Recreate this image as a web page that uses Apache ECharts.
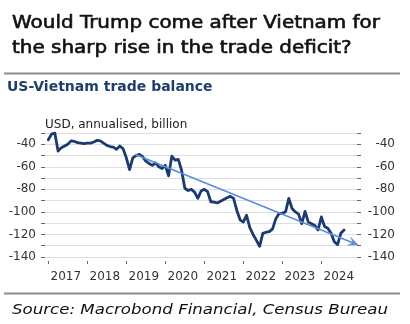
<!DOCTYPE html>
<html>
<head>
<meta charset="utf-8">
<script src="https://cdn.jsdelivr.net/npm/echarts@6/dist/echarts.min.js"></script>
<style>
  html, body { margin: 0; padding: 0; background: #ffffff; }
  #chart { width: 410px; height: 324px; }
</style>
</head>
<body>
<div id="chart"></div>
<script>
// Monthly US trade balance with Vietnam, USD bn annualised, Jan 2017 onwards
const startYear = 2017;
const balance = [
  -36, -31, -30, -46, -43, -41.5, -40, -37, -37.5, -38.5, -39, -39.5,
  -39, -39, -38, -36.5, -37, -39, -41, -42, -42.5, -44.5, -41.5, -44,
  -52, -62.5, -52, -50, -49, -51, -55, -57, -58.7, -56.5, -60, -61.5,
  -58.7, -68, -50.5, -54, -53.5, -63, -79, -81, -80, -82.5, -88, -81.5,
  -80, -82, -91, -91.3, -92, -90.5, -89, -87.5, -86.2, -88, -98.7, -107,
  -109, -103, -114, -120, -125, -130.5, -119, -118, -117.5, -115, -106, -101.5,
  -101, -100, -88, -97, -100, -102, -110.5, -99.5, -109, -110.5, -112, -116,
  -104.5, -113, -114.5, -119, -126.5, -129, -119, -116
];
// Trend arrow end points: [decimal year, value]
const trendStart = [2019.23, -49];
const trendEnd = [2024.82, -127.5];

const yearTicks = [2017, 2018, 2019, 2020, 2021, 2022, 2023, 2024];
const yTickLabels = [-140, -120, -100, -80, -60, -40];

const titleLines = [
  'Would Trump come after Vietnam for',
  'the sharp rise in the trade deficit?'
];
const subtitle = 'US-Vietnam trade balance';
const unitText = 'USD, annualised, billion';
const sourceText = 'Source: Macrobond Financial, Census Bureau';

const seriesData = balance.map((v, i) => [startYear + i / 12, v]);

const measureCtx = document.createElement('canvas').getContext('2d');
function widthOf(text, font) {
  measureCtx.font = font;
  return measureCtx.measureText(text).width;
}

// Regular face with a hairline outline gives a medium weight
const titleFont = 'normal 17.5px "DejaVu Sans"';
const titleScale = 368 / widthOf(titleLines[0], titleFont);
const sourceFont = 'italic 14px "DejaVu Sans"';
const sourceScale = 376 / widthOf(sourceText, sourceFont);

const labelColor = '#333333';
const tickColor = '#666666';

const chart = echarts.init(document.getElementById('chart'), null, { renderer: 'canvas' });

function yAxisCommon(pos) {
  return {
    type: 'value',
    position: pos,
    min: -140,
    max: -30,
    interval: 10,
    axisLine: { show: false },
    axisTick: { show: true, length: 4, lineStyle: { color: tickColor, width: 1 } },
    axisLabel: {
      color: labelColor,
      fontFamily: 'DejaVu Sans',
      fontSize: 12,
      align: 'right',
      margin: pos === 'left' ? 9 : 38,
      formatter: v => (yTickLabels.indexOf(v) >= 0 ? String(v) : '')
    },
    splitLine: { show: pos === 'left', lineStyle: { color: '#dedede', width: 1 } }
  };
}

chart.setOption({
  animation: false,
  grid: { left: 45, right: 53, top: 133, bottom: 67, containLabel: false },
  xAxis: {
    type: 'value',
    min: 2016.915,
    max: 2024.915,
    offset: 4,
    axisLine: { show: false },
    splitLine: { show: false },
    axisTick: {
      show: true,
      customValues: yearTicks,
      length: 3,
      lineStyle: { color: tickColor, width: 1 }
    },
    axisLabel: {
      customValues: yearTicks.map(y => y + 0.45),
      formatter: v => String(Math.floor(v)),
      color: labelColor,
      fontFamily: 'DejaVu Sans',
      fontSize: 12,
      margin: 10
    }
  },
  yAxis: [yAxisCommon('left'), yAxisCommon('right')],
  series: [
    {
      type: 'line',
      data: seriesData,
      showSymbol: false,
      lineStyle: { color: '#1c3a70', width: 2.8, join: 'round', cap: 'round' },
      z: 3
    },
    {
      type: 'line',
      data: [trendStart, trendEnd],
      showSymbol: false,
      lineStyle: { width: 0 },
      silent: true,
      markLine: {
        silent: true,
        symbol: ['none', 'path://M0,10 L5,0 L10,10 L5,5.5 Z'],
        symbolSize: [10, 11],
        label: { show: false },
        lineStyle: { color: '#5b8ed8', width: 1.6, type: 'solid' },
        data: [[{ coord: trendStart }, { coord: trendEnd }]]
      },
      z: 4
    }
  ],
  graphic: [
    {
      type: 'text', x: 12, y: 23, scaleX: titleScale, originX: 0,
      style: { text: titleLines[0], font: titleFont, fill: '#111111', stroke: '#111111', lineWidth: 0.6, verticalAlign: 'middle' }
    },
    {
      type: 'text', x: 12, y: 48, scaleX: titleScale, originX: 0,
      style: { text: titleLines[1], font: titleFont, fill: '#111111', stroke: '#111111', lineWidth: 0.6, verticalAlign: 'middle' }
    },
    {
      type: 'rect', shape: { x: 4, y: 72.5, width: 396, height: 2 },
      style: { fill: '#8c8c8c' }
    },
    {
      type: 'text', x: 7, y: 87,
      style: { text: subtitle, font: 'bold 14px "DejaVu Sans"', fill: '#1f3e6b', verticalAlign: 'middle' }
    },
    {
      type: 'text', x: 45, y: 125,
      style: { text: unitText, font: 'normal 12px "DejaVu Sans"', fill: '#222222', verticalAlign: 'middle' }
    },
    {
      type: 'rect', shape: { x: 4, y: 292.5, width: 396, height: 2 },
      style: { fill: '#8c8c8c' }
    },
    {
      type: 'text', x: 12, y: 310, scaleX: sourceScale, originX: 0,
      style: { text: sourceText, font: sourceFont, fill: '#111111', verticalAlign: 'middle' }
    }
  ]
});
</script>
</body>
</html>
